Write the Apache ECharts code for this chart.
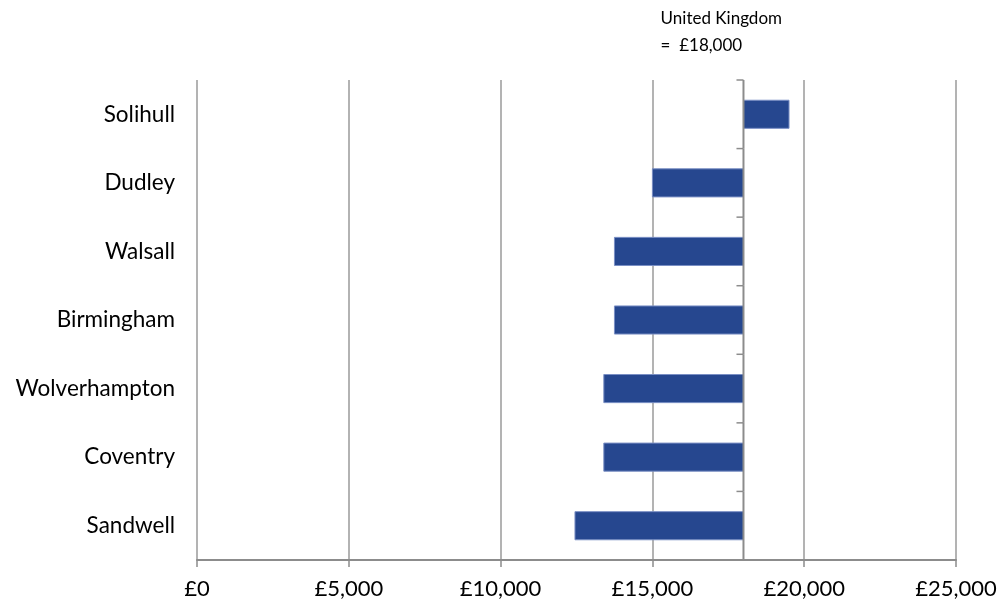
<!DOCTYPE html>
<html><head><meta charset="utf-8">
<script src="https://cdn.jsdelivr.net/npm/echarts@6/dist/echarts.min.js"></script>
<style>html,body{margin:0;padding:0;background:#fff}#c{width:1001px;height:608px}</style>
</head><body><div id="c"></div>
<script>
const categories = ['Solihull','Dudley','Walsall','Birmingham','Wolverhampton','Coventry','Sandwell'];
const values = [19500, 15000, 13750, 13750, 13400, 13400, 12450];
const ukAverage = 18000;
const xTicks = [0, 5000, 10000, 15000, 20000, 25000];
const ukLabel = ['United Kingdom', '=  £18,000'];

const FONT = 'Lato, "Open Sans", sans-serif';
const chart = echarts.init(document.getElementById('c'), null, {renderer:'canvas'});
const fmt = v => '£' + v.toLocaleString('en-GB');

chart.setOption({
  animation: false,
  backgroundColor: '#fff',
  title: {
    text: ukLabel.join('\n'),
    right: 214, top: 0,
    textStyle: {fontFamily: FONT, fontSize: 17, fontWeight: 'normal', color: '#000', lineHeight: 27}
  },
  grid: {left: 197, right: 45, top: 80, bottom: 48, containLabel: false},
  xAxis: {
    type: 'value', min: xTicks[0], max: xTicks[xTicks.length-1], interval: 5000,
    axisLine: {show: true, lineStyle: {color: '#8c8c8c', width: 2}},
    axisTick: {show: true, length: 7, lineStyle: {color: '#8c8c8c', width: 1.5}},
    splitLine: {show: true, lineStyle: {color: '#9a9a9a', width: 1.5}},
    axisLabel: {formatter: fmt, fontFamily: FONT, fontSize: 22, color: '#000', margin: 18}
  },
  yAxis: {
    type: 'category', data: categories, inverse: true,
    axisLine: {show: false}, axisTick: {show: false}, splitLine: {show: false},
    axisLabel: {fontFamily: FONT, fontSize: 22.5, color: '#000', margin: 22}
  },
  series: [{
    type: 'custom',
    data: values.map((v, i) => [i, v]),
    encode: {x: 1, y: 0},
    renderItem: function (params, api) {
      const cat = api.value(0), v = api.value(1);
      const pBase = api.coord([ukAverage, cat]);
      const pVal = api.coord([v, cat]);
      const band = api.size([0, 1])[1];
      const h = band * 0.41;
      const children = [{
        type: 'rect',
        shape: {x: Math.min(pBase[0], pVal[0]), y: pBase[1] - h/2, width: Math.abs(pVal[0]-pBase[0]), height: h},
        style: {fill: '#26478f', stroke: '#7a8fc4', lineWidth: 1}
      }, {
        type: 'line',
        shape: {x1: pBase[0], y1: pBase[1] - band/2, x2: pBase[0], y2: pBase[1] + band/2},
        style: {stroke: '#8c8c8c', lineWidth: 2}
      }, {
        type: 'line',
        shape: {x1: pBase[0] - 7, y1: pBase[1] - band/2, x2: pBase[0], y2: pBase[1] - band/2},
        style: {stroke: '#8c8c8c', lineWidth: 1.5}
      }];
      return {type: 'group', children: children};
    }
  }]
});
</script></body></html>
